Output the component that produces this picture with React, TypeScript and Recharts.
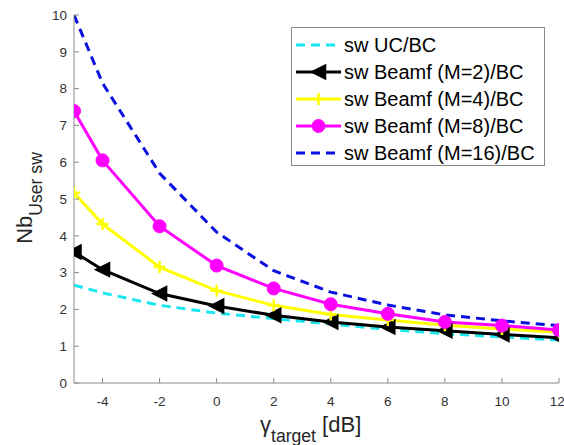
import React from "react";
import { LineChart, Line, XAxis, YAxis, Legend } from "recharts";

const X_DB = [-5, -4, -2, 0, 2, 4, 6, 8, 10, 12];
const SW_UC = [2.66, 2.45, 2.11, 1.9, 1.75, 1.6, 1.46, 1.34, 1.25, 1.17];
const SW_M2 = [3.56, 3.08, 2.43, 2.09, 1.84, 1.66, 1.52, 1.42, 1.32, 1.23];
const SW_M4 = [5.17, 4.32, 3.15, 2.51, 2.11, 1.86, 1.71, 1.57, 1.47, 1.38];
const SW_M8 = [7.39, 6.05, 4.26, 3.19, 2.57, 2.14, 1.88, 1.66, 1.56, 1.44];
const SW_M16 = [10, 8.15, 5.7, 4.1, 3.05, 2.47, 2.12, 1.85, 1.69, 1.56];

const X_TICKS = [-4, -2, 0, 2, 4, 6, 8, 10, 12];
const Y_TICKS = [0, 1, 2, 3, 4, 5, 6, 7, 8, 9, 10];

type Marker = "none" | "tri" | "plus" | "circle";

const SERIES: { key: string; name: string; color: string; dash?: string; marker: Marker }[] = [
  { key: "uc", name: "sw UC/BC", color: "#19e6ee", dash: "9 6", marker: "none" },
  { key: "m2", name: "sw Beamf (M=2)/BC", color: "#000000", marker: "tri" },
  { key: "m4", name: "sw Beamf (M=4)/BC", color: "#ffff00", marker: "plus" },
  { key: "m8", name: "sw Beamf (M=8)/BC", color: "#ff00ff", marker: "circle" },
  { key: "m16", name: "sw Beamf (M=16)/BC", color: "#0a10e0", dash: "9 6", marker: "none" },
];

const rows = X_DB.map((x, i) => ({
  x,
  uc: SW_UC[i],
  m2: SW_M2[i],
  m4: SW_M4[i],
  m8: SW_M8[i],
  m16: SW_M16[i],
}));

const FONT = "'Liberation Sans', Arial, Helvetica, sans-serif";
const AXIS = "#8a8a8a";

function markerShape(kind: Marker, color: string, cx: number, cy: number, key?: string | number) {
  if (kind === "tri")
    return (
      <path key={key} d={`M${cx - 7},${cy} L${cx + 7},${cy - 7} L${cx + 7},${cy + 7} Z`} fill={color} stroke={color} strokeWidth={1.5} />
    );
  if (kind === "plus")
    return (
      <path key={key} d={`M${cx - 6},${cy} H${cx + 6} M${cx},${cy - 6} V${cy + 6}`} stroke={color} strokeWidth={2.5} fill="none" />
    );
  if (kind === "circle") return <circle key={key} cx={cx} cy={cy} r={6.5} fill={color} stroke={color} />;
  return <g key={key} />;
}

function makeDot(kind: Marker, color: string) {
  return (p: any) => markerShape(kind, color, p.cx, p.cy, `d-${p.index}`);
}

function LegendBox() {
  return (
    <div
      style={{
        width: 254,
        height: 139,
        border: `1px solid ${AXIS}`,
        background: "#fff",
        boxSizing: "border-box",
        paddingTop: 3,
        fontFamily: FONT,
        fontSize: 20,
        color: "#000",
      }}
    >
      {SERIES.map((s) => (
        <div key={s.key} style={{ display: "flex", alignItems: "center", height: 27.2, whiteSpace: "nowrap" }}>
          <svg width={52} height={20} style={{ flex: "none" }}>
            <line x1={4} y1={10} x2={49} y2={10} stroke={s.color} strokeWidth={3} strokeDasharray={s.dash} />
            {markerShape(s.marker, s.color, 26.5, 10)}
          </svg>
          <span style={{ lineHeight: "20px" }}>{s.name}</span>
        </div>
      ))}
    </div>
  );
}

function YTitle() {
  return (
    <text transform="translate(32,198) rotate(-90)" textAnchor="middle" fontFamily={FONT} fill="#262626" fontSize={22}>
      Nb
      <tspan fontSize={17.6} dy={10}>
        User sw
      </tspan>
    </text>
  );
}

function XTitle() {
  return (
    <text x={260} y={432} fontFamily={FONT} fill="#262626" fontSize={22}>
      γ
      <tspan fontSize={17.6} dy={10}>
        target
      </tspan>
      <tspan dy={-10}> [dB]</tspan>
    </text>
  );
}

const tickStyle = { fill: "#333", fontSize: 13.5, fontFamily: FONT };

export default function App() {
  return (
    <div style={{ position: "absolute", left: 0, top: 0, background: "#fff" }}>
      <LineChart width={564} height={445} data={rows} margin={{ top: 15, right: 5, bottom: 0, left: 0 }}>
        <XAxis
          dataKey="x"
          type="number"
          domain={[-5, 12]}
          ticks={X_TICKS}
          allowDataOverflow
          height={62}
          stroke={AXIS}
          tick={tickStyle}
          tickSize={-5}
          tickMargin={18}
          label={<XTitle />}
        />
        <XAxis
          xAxisId="top"
          orientation="top"
          type="number"
          domain={[-5, 12]}
          ticks={X_TICKS}
          allowDataOverflow
          height={0}
          stroke={AXIS}
          tick={false}
          tickSize={-5}
        />
        <YAxis
          type="number"
          domain={[0, 10]}
          ticks={Y_TICKS}
          allowDataOverflow
          width={74}
          stroke={AXIS}
          tick={tickStyle}
          tickSize={-5}
          tickMargin={12}
          label={<YTitle />}
        />
        <YAxis
          yAxisId="right"
          orientation="right"
          type="number"
          domain={[0, 10]}
          ticks={Y_TICKS}
          allowDataOverflow
          width={0}
          stroke={AXIS}
          tick={false}
          tickSize={-5}
        />
        <Legend
          layout="vertical"
          align="center"
          verticalAlign="middle"
          wrapperStyle={{ left: 291, top: 27, width: 254 }}
          content={() => <LegendBox />}
        />
        {SERIES.map((s) => (
          <Line
            key={s.key}
            dataKey={s.key}
            name={s.name}
            type="linear"
            stroke={s.color}
            strokeWidth={3}
            strokeDasharray={s.dash}
            dot={s.marker === "none" ? false : makeDot(s.marker, s.color)}
            activeDot={false}
            isAnimationActive={false}
          />
        ))}
      </LineChart>
    </div>
  );
}
